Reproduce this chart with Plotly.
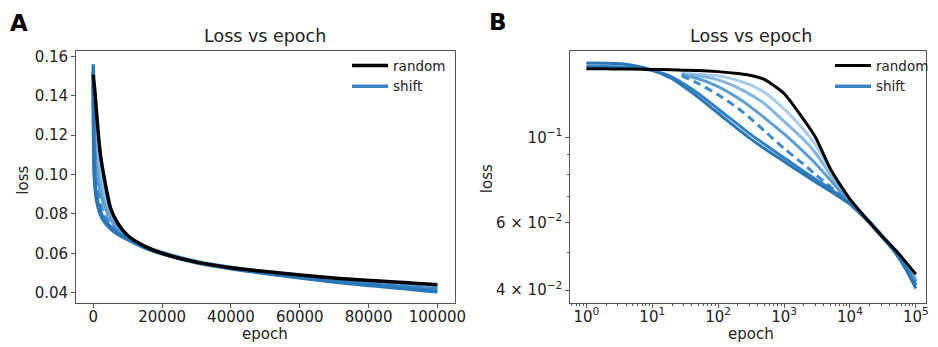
import plotly.graph_objects as go

# ---------------- data ----------------
epochs = [1, 2, 3, 5, 10, 20, 30, 50, 100, 200, 300, 500, 1000, 2000, 3000,
          5000, 7000, 10000, 15000, 20000, 30000, 40000, 50000, 70000, 100000]

random_loss = [0.1507, 0.1507, 0.1506, 0.1505, 0.1502, 0.1498, 0.1495, 0.1492, 0.1482,
               0.1465, 0.1450, 0.1415, 0.1300, 0.1110, 0.1000, 0.0830, 0.0755, 0.0690,
               0.0635, 0.0600, 0.0555, 0.0527, 0.0507, 0.0474, 0.0440]

shift1 = [0.1560, 0.1558, 0.1555, 0.1540, 0.1496, 0.1420, 0.1355, 0.1270, 0.1155,
          0.1050, 0.0995, 0.0935, 0.0865, 0.0800, 0.0765, 0.0725, 0.0698, 0.0670,
          0.0627, 0.0597, 0.0552, 0.0522, 0.0497, 0.0454, 0.0404]

shift2 = [0.1530, 0.1529, 0.1527, 0.1520, 0.1492, 0.1435, 0.1378, 0.1300, 0.1185,
          0.1080, 0.1022, 0.0960, 0.0885, 0.0815, 0.0778, 0.0735, 0.0705, 0.0672,
          0.0629, 0.0599, 0.0554, 0.0524, 0.0500, 0.0458, 0.0412]

late_epochs = [28, 50, 100, 200, 300, 500, 1000, 2000, 3000,
               5000, 7000, 10000, 15000, 20000, 30000, 40000, 50000, 70000, 100000]

shift3 = [0.1445, 0.1380, 0.1290, 0.1190, 0.1125, 0.1040, 0.0935, 0.0850, 0.0800,
          0.0745, 0.0712, 0.0676, 0.0631, 0.0600, 0.0555, 0.0525, 0.0501, 0.0462, 0.0418]

shift4 = [0.1455, 0.1420, 0.1355, 0.1265, 0.1205, 0.1125, 0.1020, 0.0915, 0.0855,
          0.0775, 0.0725, 0.0675, 0.0631, 0.0602, 0.0557, 0.0527, 0.0503, 0.0465, 0.0422]

shift5 = [0.1460, 0.1445, 0.1410, 0.1345, 0.1295, 0.1225, 0.1100, 0.0985, 0.0910,
          0.0800, 0.0738, 0.0680, 0.0632, 0.0603, 0.0558, 0.0528, 0.0505, 0.0467, 0.0425]

shift6 = [0.1465, 0.1460, 0.1445, 0.1405, 0.1370, 0.1310, 0.1185, 0.1045, 0.0955,
          0.0825, 0.0755, 0.0685, 0.0634, 0.0604, 0.0559, 0.0529, 0.0507, 0.0470, 0.0430]

lin_xticks = [0, 20000, 40000, 60000, 80000, 100000]
lin_yticks = [0.04, 0.06, 0.08, 0.10, 0.12, 0.14, 0.16]
log_xticks = [1, 10, 100, 1000, 10000, 100000]
log_xticktext = ["10<sup>0</sup>", "10<sup>1</sup>", "10<sup>2</sup>",
                 "10<sup>3</sup>", "10<sup>4</sup>", "10<sup>5</sup>"]
log_yticks = [0.04, 0.06, 0.1]
log_yticktext = ["4 × 10<sup>−2</sup>", "6 × 10<sup>−2</sup>", "10<sup>−1</sup>"]
log_yminor = [0.05, 0.07, 0.08, 0.09]
log_xminor = [m * 10 ** k for k in range(-1, 5) for m in range(2, 10)]

# ---------------- styling ----------------
FONT = "DejaVu Sans"
TXT = "#222222"
AX = "#555555"
curves = [
    (late_epochs, shift6, "#a8cde9", "solid"),
    (late_epochs, shift5, "#84b6de", "solid"),
    (late_epochs, shift4, "#5d9fd2", "solid"),
    (late_epochs, shift3, "#3f8bc8", "dash"),
    (epochs, shift2, "#3380c0", "solid"),
    (epochs, shift1, "#2a77b8", "solid"),
]

fig = go.Figure()

for xa, ya, leg, w in [("x", "y", "legend", 3.5), ("x2", "y2", "legend2", 3)]:
    for ex, vals, col, dash in curves:
        fig.add_trace(go.Scatter(
            x=ex, y=vals, mode="lines", xaxis=xa, yaxis=ya,
            line=dict(color=col, width=w, dash="8px,5px" if dash == "dash" else "solid",
                      shape="spline", smoothing=0.6),
            showlegend=False, hoverinfo="skip"))
    fig.add_trace(go.Scatter(
        x=epochs, y=random_loss, mode="lines", name="random", xaxis=xa, yaxis=ya,
        line=dict(color="black", width=w, shape="spline", smoothing=0.6),
        legend=leg, legendrank=1, showlegend=True))
    fig.add_trace(go.Scatter(
        x=[None], y=[None], mode="lines", name="shift", xaxis=xa, yaxis=ya,
        line=dict(color="#3a82c0", width=3.5), legend=leg, legendrank=2, showlegend=True))

common = dict(showline=True, linecolor=AX, linewidth=1, mirror=True, ticks="outside",
              ticklen=4, tickcolor=AX, showgrid=False, zeroline=False,
              tickfont=dict(family=FONT, size=15, color=TXT))

leg_common = dict(xanchor="left", yanchor="top", bgcolor="rgba(0,0,0,0)",
                  font=dict(family=FONT, size=13.5, color=TXT), itemwidth=36,
                  tracegroupgap=0)

fig.update_layout(
    width=938, height=347, margin=dict(l=0, r=0, t=0, b=0),
    paper_bgcolor="white", plot_bgcolor="white",
    font=dict(family=FONT, color=TXT),
    xaxis=dict(domain=[0.0821, 0.4904], range=[-5000, 105000], tickvals=lin_xticks,
               tickformat="d", anchor="y", ticklabelstandoff=-4, **common),
    yaxis=dict(domain=[0.1297, 0.8617], range=[0.035, 0.1625], tickvals=lin_yticks,
               tickformat=".2f", anchor="x", **common),
    xaxis2=dict(domain=[0.6151, 0.999], type="log", range=[-0.245, 5.155],
                tickvals=log_xticks, ticktext=log_xticktext, anchor="y2",
                ticklabelstandoff=-4,
                minor=dict(tickvals=log_xminor, ticklen=2, tickcolor=AX, ticks="outside"),
                **common),
    yaxis2=dict(domain=[0.1297, 0.8617], type="log", range=[-1.43, -0.7766],
                tickvals=log_yticks, ticktext=log_yticktext, anchor="x2",
                minor=dict(tickvals=log_yminor, ticklen=2, tickcolor=AX, ticks="outside"),
                **common),
    legend=dict(x=0.3744, y=0.865, **leg_common),
    legend2=dict(x=0.8953, y=0.865, **leg_common),
)

ann = []
def add_text(text, x, y, size, bold=False, angle=0):
    ann.append(dict(text=f"<b>{text}</b>" if bold else text, x=x / 938, y=1 - y / 347,
                    xref="paper", yref="paper", showarrow=False, textangle=angle,
                    xanchor="center", yanchor="middle",
                    font=dict(family=FONT, size=size, color="black" if bold else TXT)))

add_text("A", 19, 19, 23, bold=True)
add_text("B", 504, 18, 23, bold=True)
add_text("Loss vs epoch", 268, 32, 17.5)
add_text("Loss vs epoch", 760, 32, 17.5)
add_text("loss", 23, 178, 15, angle=-90)
add_text("loss", 493, 177, 15, angle=-90)
add_text("epoch", 268, 334, 15)
add_text("epoch", 760, 334, 15)
fig.update_layout(annotations=ann)

fig.write_html("out.html", config={"displayModeBar": False},
               post_script="document.body.style.margin='0px';document.body.style.overflow='hidden';")
